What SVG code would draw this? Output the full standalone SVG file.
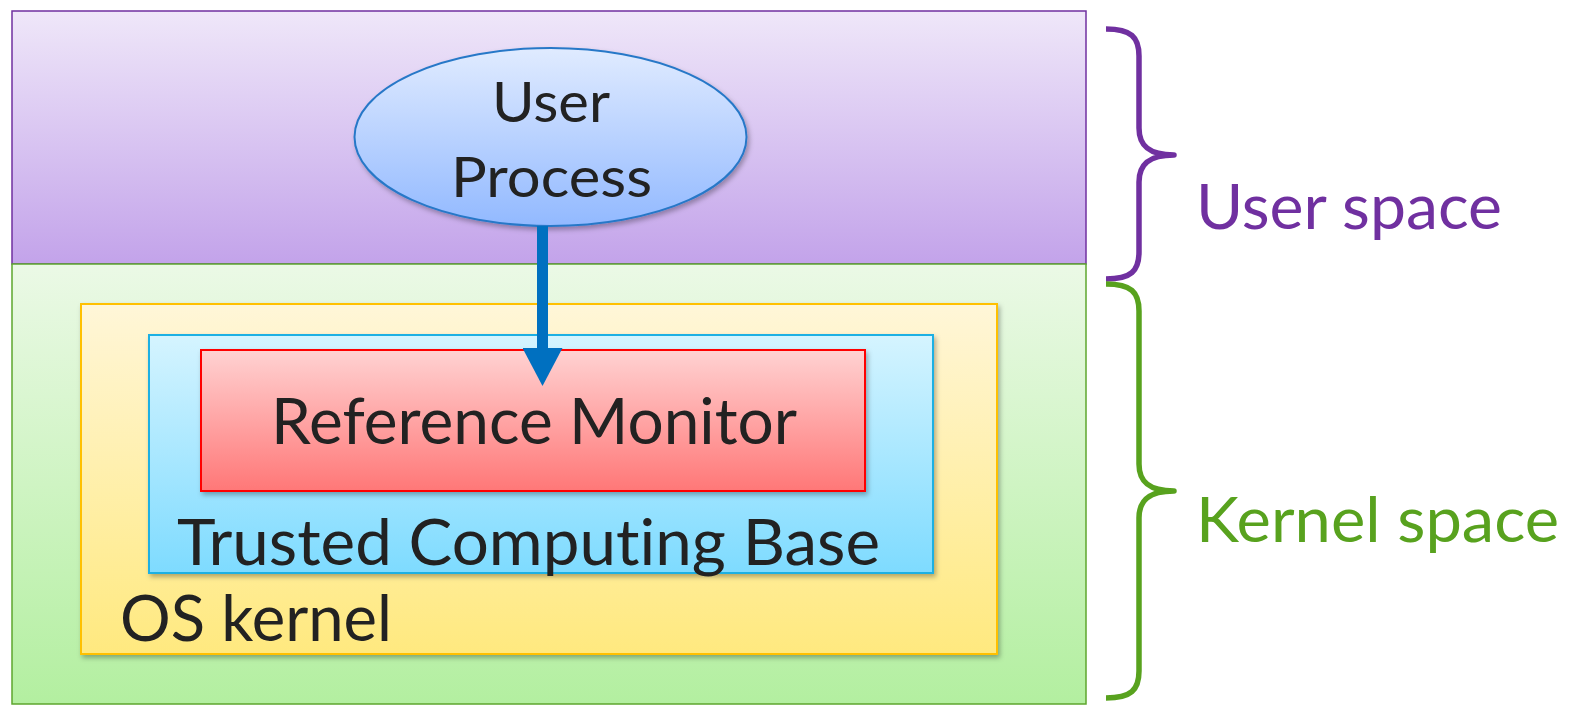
<svg xmlns="http://www.w3.org/2000/svg" width="1570" height="706" viewBox="0 0 1570 706">
<style>
  .lbl { font-family: Lato, "Open Sans", "Liberation Sans", sans-serif; fill: #222222; font-variant-ligatures: none; }
  .big { font-size: 64px; }
  .mid { font-size: 57px; }
  .side { font-family: Lato, "Open Sans", "Liberation Sans", sans-serif; font-size: 62px; font-variant-ligatures: none; }
  .brace { fill: none; stroke-width: 5.5; stroke-linejoin: round; }
</style>
<defs>
  <linearGradient id="gPurple" x1="0" y1="0" x2="0" y2="1">
    <stop offset="0" stop-color="#EFE7F9"/>
    <stop offset="1" stop-color="#C3A3EA"/>
  </linearGradient>
  <linearGradient id="gGreen" x1="0" y1="0" x2="0" y2="1">
    <stop offset="0" stop-color="#EBF9E6"/>
    <stop offset="1" stop-color="#B3EFA0"/>
  </linearGradient>
  <linearGradient id="gYellow" x1="0" y1="0" x2="0" y2="1">
    <stop offset="0" stop-color="#FFF6D8"/>
    <stop offset="1" stop-color="#FFE97F"/>
  </linearGradient>
  <linearGradient id="gBlue" x1="0" y1="0" x2="0" y2="1">
    <stop offset="0" stop-color="#D5F4FF"/>
    <stop offset="1" stop-color="#7EDBFF"/>
  </linearGradient>
  <linearGradient id="gRed" x1="0" y1="0" x2="0" y2="1">
    <stop offset="0" stop-color="#FFD2D2"/>
    <stop offset="1" stop-color="#FF7777"/>
  </linearGradient>
  <linearGradient id="gEll" x1="0" y1="0" x2="0" y2="1">
    <stop offset="0" stop-color="#E0EBFF"/>
    <stop offset="1" stop-color="#92B9FF"/>
  </linearGradient>
  <filter id="sh" x="-5%" y="-5%" width="110%" height="115%">
    <feDropShadow dx="2" dy="3" stdDeviation="2.5" flood-color="#000" flood-opacity="0.3"/>
  </filter>
  <marker id="head" markerUnits="userSpaceOnUse" markerWidth="38" markerHeight="40" viewBox="0 0 38 40" refX="0" refY="20" orient="auto">
    <path d="M0,0 L38,20 L0,40 Z" fill="#0070C0"/>
  </marker>
</defs>

<g id="user-space-region">
  <rect x="12" y="11" width="1074" height="253" fill="url(#gPurple)" stroke="#7030A0" stroke-width="1.5"/>
</g>
<g id="kernel-space-region">
  <rect x="12" y="264" width="1074" height="440" fill="url(#gGreen)" stroke="#5EA62E" stroke-width="1.5"/>
</g>
<g id="os-kernel">
  <rect x="81" y="304" width="916" height="350" fill="url(#gYellow)" stroke="#FFC000" stroke-width="2" filter="url(#sh)"/>
  <text class="lbl big" x="120" y="641" textLength="272" lengthAdjust="spacingAndGlyphs">OS kernel</text>
</g>
<g id="tcb">
  <rect x="149" y="335" width="784" height="238" fill="url(#gBlue)" stroke="#1BB0E3" stroke-width="2" filter="url(#sh)"/>
  <text class="lbl big" x="177" y="565" textLength="703" lengthAdjust="spacingAndGlyphs">Trusted Computing Base</text>
</g>
<g id="reference-monitor">
  <rect x="201" y="350" width="664" height="141" fill="url(#gRed)" stroke="#FF0000" stroke-width="2" filter="url(#sh)"/>
  <text class="lbl big" x="271" y="444" textLength="526" lengthAdjust="spacingAndGlyphs">Reference Monitor</text>
</g>
<g id="user-process">
  <ellipse cx="550.5" cy="137" rx="196" ry="89" fill="url(#gEll)" stroke="#2878C8" stroke-width="2" filter="url(#sh)"/>
  <text class="lbl mid" x="492" y="122" textLength="118" lengthAdjust="spacingAndGlyphs">User</text>
  <text class="lbl mid" x="451" y="197" textLength="201" lengthAdjust="spacingAndGlyphs">Process</text>
</g>
<g id="user-space-brace">
  <path class="brace" stroke="#7030A0" d="M1106,29 C1131,29 1139,37 1139,56 L1139,128 C1139,146 1149,155 1174,155 C1149,155 1139,164 1139,182 L1139,252 C1139,271 1131,279 1106,279"/>
  <text class="side" x="1196" y="229" fill="#7030A0" textLength="306" lengthAdjust="spacingAndGlyphs">User space</text>
</g>
<g id="kernel-space-brace">
  <path class="brace" stroke="#58A21E" d="M1106,284 C1131,284 1139,292 1139,311 L1139,464 C1139,482 1149,491 1174,491 C1149,491 1139,500 1139,518 L1139,671 C1139,690 1131,698 1106,698"/>
  <text class="side" x="1196" y="542" fill="#58A21E" textLength="363" lengthAdjust="spacingAndGlyphs">Kernel space</text>
</g>

<g id="connectors">
  <line x1="542.5" y1="226" x2="542.5" y2="348" stroke="#0070C0" stroke-width="11" marker-end="url(#head)"/>
</g>
</svg>
